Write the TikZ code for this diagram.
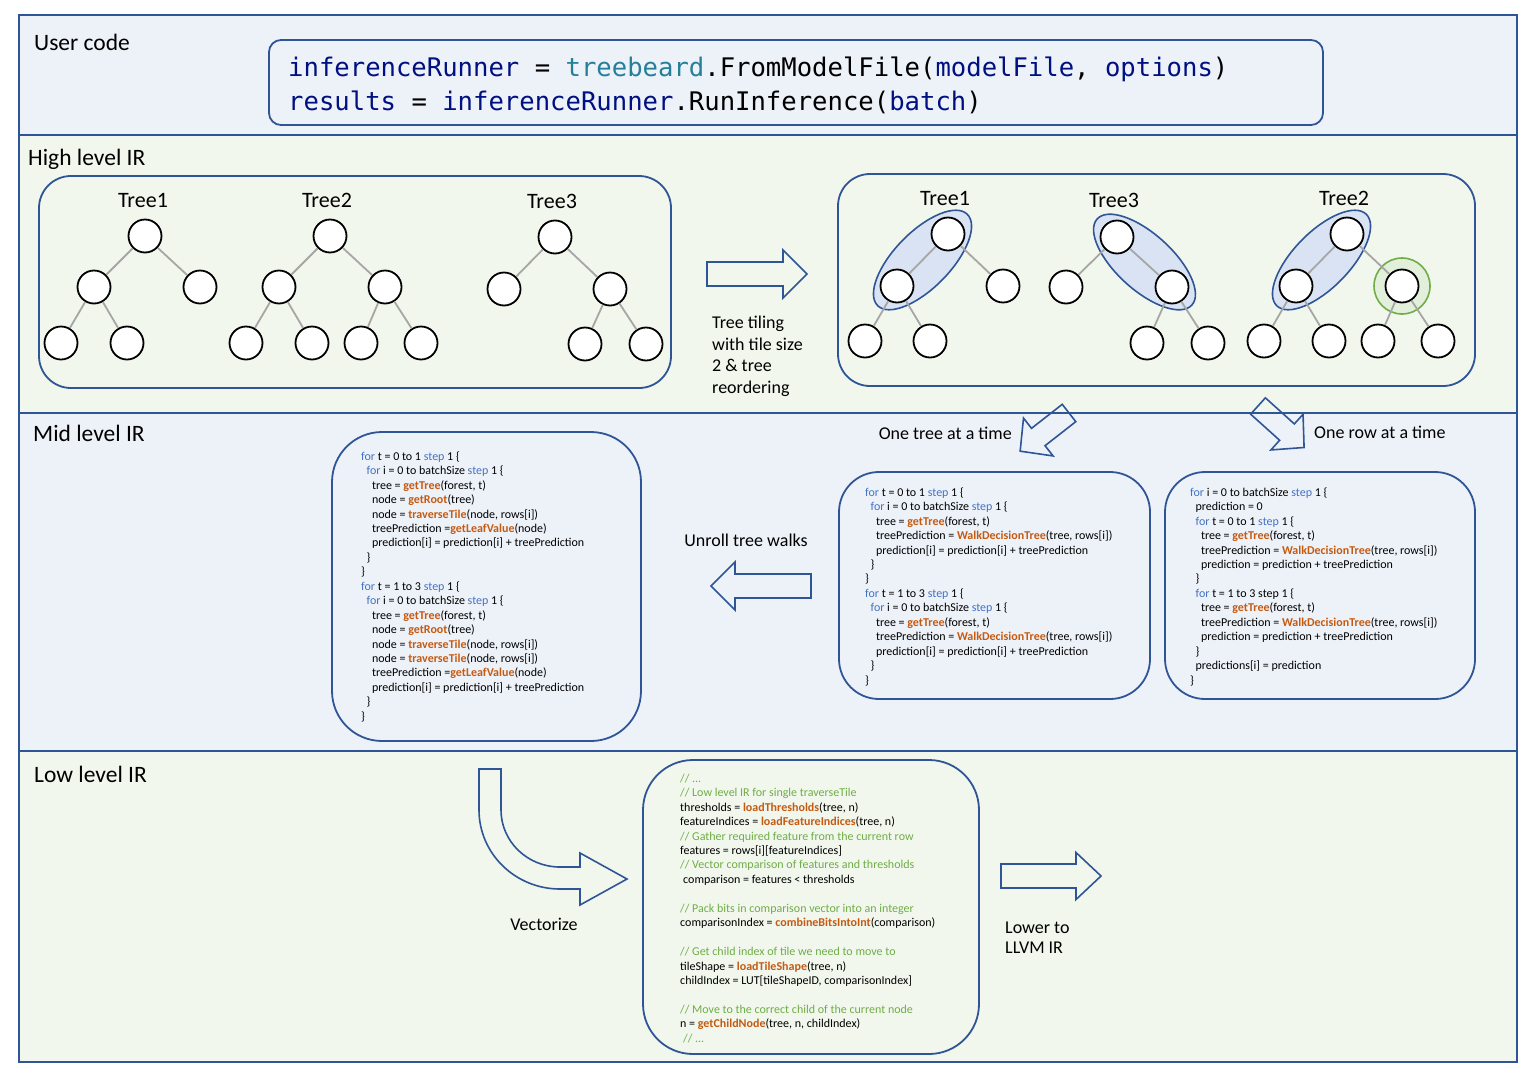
\documentclass[tikz,border=0pt]{standalone}
\usepackage{fontspec}
\setmainfont{Carlito}
\newfontfamily\ucmono{DejaVu Sans Mono}
\usetikzlibrary{shapes.geometric}
\definecolor{dblue}{HTML}{2F5597}
\definecolor{bgblue}{HTML}{EDF2F9}
\definecolor{bggreen}{HTML}{F1F7ED}
\definecolor{tileblue}{HTML}{DAE3F3}
\definecolor{tilegreen}{HTML}{E2EFDA}
\definecolor{tgreen}{HTML}{70AD47}
\definecolor{kwblue}{HTML}{4472C4}
\definecolor{fnorange}{HTML}{C55A11}
\definecolor{cmgreen}{HTML}{70AD47}
\definecolor{edgegray}{HTML}{A6A6A6}
\definecolor{ucnavy}{HTML}{001080}
\definecolor{ucteal}{HTML}{267F99}
\newcommand{\cKw}[1]{\textcolor{kwblue}{#1}}
\newcommand{\cFn}[1]{\textcolor{fnorange}{\bfseries #1}}
\newcommand{\cCm}[1]{\textcolor{cmgreen}{#1}}
\newcommand{\indA}{\hspace*{5.4pt}}
\newcommand{\indB}{\hspace*{10.8pt}}
\newcommand{\firstln}{\rule{0pt}{10pt}}
\tikzset{
  pics/blockarrow/.style n args={4}{code={
    \draw[arrowline] (0,-#3) -- ({#1-#2},-#3) -- ({#1-#2},-#4) -- (#1,0) -- ({#1-#2},#4) -- ({#1-#2},#3) -- (0,#3) -- cycle;
  }}
}
\begin{document}
\begin{tikzpicture}[x=1pt,y=-1pt,
  sec/.style={draw=dblue, line width=2pt},
  box/.style={draw=dblue, line width=1.8pt, rounded corners=#1, inner sep=0pt},
  arrowline/.style={draw=dblue, line width=1.6pt, line join=miter},
  tile/.style={ellipse, draw=dblue, fill=tileblue, line width=1.6pt, inner sep=0pt, minimum width=128pt, minimum height=56pt},
  tn/.style={circle, draw=black, fill=white, line width=1.8pt, minimum size=33pt, inner sep=0pt},
  treeedge/.style={draw=edgegray, line width=1.8pt},
  seclabel/.style={anchor=base west, inner sep=0pt, font=\fontsize{23.5}{28}\selectfont},
  treelabel/.style={anchor=base, inner sep=0pt, font=\fontsize{22}{26}\selectfont},
  note/.style={inner sep=0pt, font=\fontsize{18}{21.8}\selectfont},
  code/.style={anchor=north west, align=left, inner sep=0pt, font=\fontsize{12}{14.45}\selectfont},
  ucode/.style={anchor=base west, inner sep=0pt, font=\ucmono\fontsize{25.6}{34}\selectfont}
]
\useasboundingbox (0,0) rectangle (1539,1079);
\fill[white] (0,0) rectangle (1539,1079);

% sections
\fill[bgblue] (19,15) rectangle (1517,135);
\fill[bggreen] (19,135) rectangle (1517,413);
\fill[bgblue] (19,413) rectangle (1517,751);
\fill[bggreen] (19,751) rectangle (1517,1062);
\draw[sec] (19,15) rectangle (1517,135);
\draw[sec] (19,135) rectangle (1517,413);
\draw[sec] (19,413) rectangle (1517,751);
\draw[sec] (19,751) rectangle (1517,1062);

\node[seclabel] (lbuser) at (34,50) {User code};
\node[seclabel] (lbhigh) at (28,165) {High level IR};
\node[seclabel] (lbmid) at (33,441) {Mid level IR};
\node[seclabel] (lblow) at (34,782) {Low level IR};

% user code
\node[box=12pt, fill=bgblue, minimum width=1054pt, minimum height=85pt] (ubox) at (796,82.5) {};
\node[ucode] (uc1) at (288,76) {\textcolor{ucnavy}{inferenceRunner} = \textcolor{ucteal}{treebeard}.FromModelFile(\textcolor{ucnavy}{modelFile}, \textcolor{ucnavy}{options})};
\node[ucode] (uc2) at (288,110) {\textcolor{ucnavy}{results} = \textcolor{ucnavy}{inferenceRunner}.RunInference(\textcolor{ucnavy}{batch})};

% high level boxes
\node[box=32pt, fill=bggreen, minimum width=632pt, minimum height=212pt] (hleft) at (355,282) {};
\node[box=32pt, fill=bggreen, minimum width=637pt, minimum height=212pt] (hright) at (1156.5,280) {};

% left trees
\node[treelabel] (lt1) at (143,207) {Tree1};
\node[treelabel] (lt2) at (327,207) {Tree2};
\node[treelabel] (lt3) at (552,208) {Tree3};
\node[tn] (L1r) at (145,236) {};
\node[tn] (L1a) at (94,287) {};
\node[tn] (L1b) at (200,287) {};
\node[tn] (L1c) at (61,343) {};
\node[tn] (L1d) at (127,343) {};
\node[tn] (L2r) at (330,236) {};
\node[tn] (L2a) at (279,287) {};
\node[tn] (L2b) at (385,287) {};
\node[tn] (L2c) at (246,343) {};
\node[tn] (L2d) at (312,343) {};
\node[tn] (L2e) at (361,343) {};
\node[tn] (L2f) at (421,343) {};
\node[tn] (L3r) at (555,237) {};
\node[tn] (L3a) at (504,289) {};
\node[tn] (L3b) at (610,289) {};
\node[tn] (L3c) at (585,344) {};
\node[tn] (L3d) at (646,344) {};
\draw[treeedge] (L1r) -- (L1a); \draw[treeedge] (L1r) -- (L1b);
\draw[treeedge] (L1a) -- (L1c); \draw[treeedge] (L1a) -- (L1d);
\draw[treeedge] (L2r) -- (L2a); \draw[treeedge] (L2r) -- (L2b);
\draw[treeedge] (L2a) -- (L2c); \draw[treeedge] (L2a) -- (L2d);
\draw[treeedge] (L2b) -- (L2e); \draw[treeedge] (L2b) -- (L2f);
\draw[treeedge] (L3r) -- (L3a); \draw[treeedge] (L3r) -- (L3b);
\draw[treeedge] (L3b) -- (L3c); \draw[treeedge] (L3b) -- (L3d);

% right trees
\node[treelabel] (rt1) at (945,205) {Tree1};
\node[treelabel] (rt3) at (1114,207) {Tree3};
\node[treelabel] (rt2) at (1344,205) {Tree2};
\node[tile, rotate=45.6] (tileA) at (922.5,260) {};
\node[tile, rotate=-42.3] (tileB) at (1144.5,262) {};
\node[tile, rotate=45.6] (tileC) at (1321.5,260) {};
\node[circle, draw=tgreen, fill=tilegreen, line width=1.6pt, minimum size=56pt, inner sep=0pt] (tileD) at (1402,286) {};
\node[tn] (R1r) at (948,234) {};
\node[tn] (R1a) at (897,286) {};
\node[tn] (R1b) at (1003,286) {};
\node[tn] (R1c) at (865,341) {};
\node[tn] (R1d) at (930,341) {};
\node[tn] (R3r) at (1117,237) {};
\node[tn] (R3a) at (1066,287) {};
\node[tn] (R3b) at (1172,287) {};
\node[tn] (R3c) at (1147,343) {};
\node[tn] (R3d) at (1208,343) {};
\node[tn] (R2r) at (1347,234) {};
\node[tn] (R2a) at (1296,286) {};
\node[tn] (R2b) at (1402,286) {};
\node[tn] (R2c) at (1264,341) {};
\node[tn] (R2d) at (1329,341) {};
\node[tn] (R2e) at (1378,341) {};
\node[tn] (R2f) at (1438,341) {};
\draw[treeedge] (R1r) -- (R1a); \draw[treeedge] (R1r) -- (R1b);
\draw[treeedge] (R1a) -- (R1c); \draw[treeedge] (R1a) -- (R1d);
\draw[treeedge] (R3r) -- (R3a); \draw[treeedge] (R3r) -- (R3b);
\draw[treeedge] (R3b) -- (R3c); \draw[treeedge] (R3b) -- (R3d);
\draw[treeedge] (R2r) -- (R2a); \draw[treeedge] (R2r) -- (R2b);
\draw[treeedge] (R2a) -- (R2c); \draw[treeedge] (R2a) -- (R2d);
\draw[treeedge] (R2b) -- (R2e); \draw[treeedge] (R2b) -- (R2f);

% tiling arrow
\pic (arrTile) at (707,274) {blockarrow={100}{24}{12}{24}};
\node[note, anchor=north west, align=left] (tiletext) at (712,314) {\rule{0pt}{14pt}Tree tiling\\with tile size\\2 \& tree\\reordering};

% mid level
\node[box=50pt, fill=bgblue, minimum width=309pt, minimum height=309pt] (mleft) at (486.5,586.5) {};
\node[box=40pt, fill=bgblue, minimum width=311pt, minimum height=227pt] (mcenter) at (994.5,585.5) {};
\node[box=40pt, fill=bgblue, minimum width=310pt, minimum height=227pt] (mright) at (1320,585.5) {};

\node[code] (codeL) at (361,450) {\firstln\cKw{for} t = 0 to 1 \cKw{step} 1 \{\\
\indA\cKw{for} i = 0 to batchSize \cKw{step} 1 \{\\
\indB tree = \cFn{getTree}(forest, t)\\
\indB node = \cFn{getRoot}(tree)\\
\indB node = \cFn{traverseTile}(node, rows[i])\\
\indB treePrediction =\cFn{getLeafValue}(node)\\
\indB prediction[i] = prediction[i] + treePrediction\\
\indA\}\\
\}\\
\cKw{for} t = 1 to 3 \cKw{step} 1 \{\\
\indA\cKw{for} i = 0 to batchSize \cKw{step} 1 \{\\
\indB tree = \cFn{getTree}(forest, t)\\
\indB node = \cFn{getRoot}(tree)\\
\indB node = \cFn{traverseTile}(node, rows[i])\\
\indB node = \cFn{traverseTile}(node, rows[i])\\
\indB treePrediction =\cFn{getLeafValue}(node)\\
\indB prediction[i] = prediction[i] + treePrediction\\
\indA\}\\
\}};

\node[code] (codeC) at (865,486) {\firstln\cKw{for} t = 0 to 1 \cKw{step} 1 \{\\
\indA\cKw{for} i = 0 to batchSize \cKw{step} 1 \{\\
\indB tree = \cFn{getTree}(forest, t)\\
\indB treePrediction = \cFn{WalkDecisionTree}(tree, rows[i])\\
\indB prediction[i] = prediction[i] + treePrediction\\
\indA\}\\
\}\\
\cKw{for} t = 1 to 3 \cKw{step} 1 \{\\
\indA\cKw{for} i = 0 to batchSize \cKw{step} 1 \{\\
\indB tree = \cFn{getTree}(forest, t)\\
\indB treePrediction = \cFn{WalkDecisionTree}(tree, rows[i])\\
\indB prediction[i] = prediction[i] + treePrediction\\
\indA\}\\
\}};

\node[code] (codeR) at (1190,486) {\firstln\cKw{for} i = 0 to batchSize \cKw{step} 1 \{\\
\indA prediction = 0\\
\indA\cKw{for} t = 0 to 1 \cKw{step} 1 \{\\
\indB tree = \cFn{getTree}(forest, t)\\
\indB treePrediction = \cFn{WalkDecisionTree}(tree, rows[i])\\
\indB prediction = prediction + treePrediction\\
\indA\}\\
\indA\cKw{for} t = 1 to 3 step 1 \{\\
\indB tree = \cFn{getTree}(forest, t)\\
\indB treePrediction = \cFn{WalkDecisionTree}(tree, rows[i])\\
\indB prediction = prediction + treePrediction\\
\indA\}\\
\indA predictions[i] = prediction\\
\}};

\pic[rotate=218] (arrTree) at (1069,413) {blockarrow={62}{23}{11}{24}};
\pic[rotate=-42] (arrRow) at (1258,406) {blockarrow={62}{23}{11}{24}};
\node[note, anchor=base east] (onetree) at (1012,439) {One tree at a time};
\node[note, anchor=base west] (onerow) at (1314,438) {One row at a time};

\pic[rotate=180] (arrUnroll) at (811,586) {blockarrow={100}{24}{12}{24}};
\node[note, anchor=base] (unroll) at (746,546) {Unroll tree walks};

% low level
\node[box=50pt, fill=bggreen, minimum width=336pt, minimum height=294pt] (lbox) at (811,907) {};
\node[code] (codeLow) at (680,772) {\firstln\cCm{// ...}\\
\cCm{// Low level IR for single traverseTile}\\
thresholds = \cFn{loadThresholds}(tree, n)\\
featureIndices = \cFn{loadFeatureIndices}(tree, n)\\
\cCm{// Gather required feature from the current row}\\
features = rows[i][featureIndices]\\
\cCm{// Vector comparison of features and thresholds}\\
\hspace*{3pt}comparison = features < thresholds\\
\mbox{}\\
\cCm{// Pack bits in comparison vector into an integer}\\
comparisonIndex = \cFn{combineBitsIntoInt}(comparison)\\
\mbox{}\\
\cCm{// Get child index of tile we need to move to}\\
tileShape = \cFn{loadTileShape}(tree, n)\\
childIndex = LUT[tileShapeID, comparisonIndex]\\
\mbox{}\\
\cCm{// Move to the correct child of the current node}\\
n = \cFn{getChildNode}(tree, n, childIndex)\\
\hspace*{3pt}\cCm{// ...}};

% vectorize bent arrow
\draw[arrowline] (479,769) -- (479,810) .. controls (479,853.6) and (515.3,889) .. (560,889) -- (580,889) -- (580,905) -- (627,879) -- (580,853) -- (580,867) -- (560,867) .. controls (527.4,867) and (501,841.5) .. (501,810) -- (501,769) -- cycle;
\node[note, anchor=base] (vect) at (544,930) {Vectorize};

\pic (arrLower) at (1001,876) {blockarrow={100}{25}{12}{23.5}};
\node[note, anchor=north west, align=left, font=\fontsize{18}{20}\selectfont] (lower) at (1005,919) {\rule{0pt}{14pt}Lower to\\LLVM IR};
\end{tikzpicture}
\end{document}
